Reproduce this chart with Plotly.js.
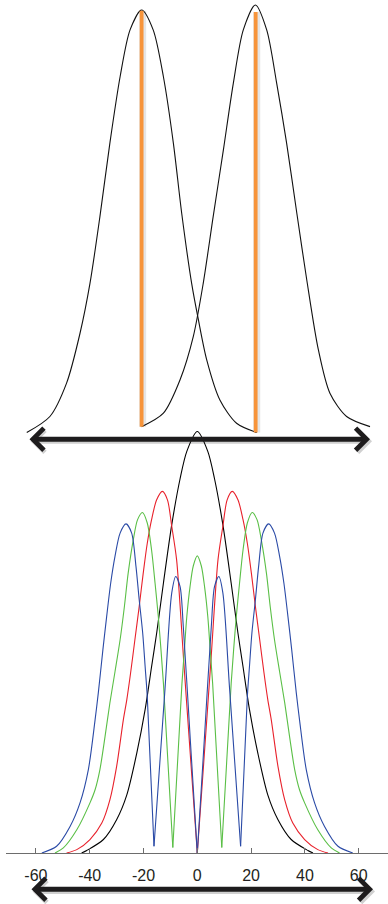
<!DOCTYPE html>
<html>
<head>
<meta charset="utf-8">
<script src="https://cdn.plot.ly/plotly-3.0.1.min.js"></script>
<style>
  html, body { margin: 0; padding: 0; background: #ffffff; }
  #myDiv { width: 388px; height: 904px; }
</style>
</head>
<body>
<div id="myDiv"></div>
<script>
// top panel: two overlapping peaks
var leftPeakX = [-63.4, -54.8, -48.6, -43.6, -39.9, -36.2, -32.5, -28.7, -25.0, -20.7, -16.4, -12.6, -8.9, -5.8, -2.1, 0.4, 3.5, 8.4, 14.6, 22.1];
var leftPeakY = [0, 0.038, 0.117, 0.235, 0.353, 0.511, 0.685, 0.842, 0.953, 1.0, 0.953, 0.842, 0.685, 0.519, 0.353, 0.267, 0.172, 0.077, 0.022, 0];
var rightPeakX = [-20.7, -12.6, -6.4, -1.5, 2.2, 5.9, 9.7, 13.4, 17.1, 21.6, 25.8, 29.5, 33.2, 37.0, 40.7, 45.0, 49.3, 55.5, 64.2];
var rightPeakY = [0.014, 0.046, 0.125, 0.227, 0.353, 0.511, 0.669, 0.827, 0.953, 1.012, 0.953, 0.827, 0.685, 0.519, 0.361, 0.196, 0.093, 0.038, 0.014];
var markerX = [-20.7, 21.7];
var markerBottom = [0.014, 0];
var markerTop = [0.998, 0.995];

// bottom panel: four states
var blackX = [-43.0, -41.1, -34.9, -30.0, -26.2, -22.5, -19.4, -17.0, -15.1, -12.6, -9.5, -6.4, -3.9, 0,
              3.9, 6.4, 9.5, 12.6, 15.1, 17.0, 19.4, 22.5, 26.2, 30.0, 34.9, 41.1, 43.0];
var blackY = [0, 0.006, 0.032, 0.079, 0.138, 0.237, 0.340, 0.442, 0.522, 0.640, 0.779, 0.888, 0.953, 1.0,
              0.953, 0.888, 0.779, 0.640, 0.522, 0.442, 0.340, 0.237, 0.138, 0.079, 0.032, 0.006, 0];

var redX = [-48.6, -44.8, -39.9, -35.5, -32.5, -30.0, -27.5, -26.2, -24.8, -23.2, -21.6, -20.1, -18.6, -17.0, -15.1, -13.0, -11.1, -9.5, -7.7, -5.1, -2.6, 0,
            2.6, 5.1, 7.7, 9.5, 11.1, 13.0, 15.1, 17.0, 18.6, 20.1, 21.6, 23.2, 24.8, 26.2, 27.5, 30.0, 32.5, 35.5, 39.9, 44.8, 48.6];
var redY = [0, 0.008, 0.032, 0.071, 0.126, 0.205, 0.316, 0.364, 0.427, 0.506, 0.585, 0.664, 0.735, 0.791, 0.838, 0.858, 0.838, 0.775, 0.696, 0.460, 0.233, 0,
            0.233, 0.460, 0.696, 0.775, 0.838, 0.858, 0.838, 0.791, 0.735, 0.664, 0.585, 0.506, 0.427, 0.364, 0.316, 0.205, 0.126, 0.071, 0.032, 0.008, 0];

var greenX = [-52.9, -49.8, -44.8, -39.9, -38.0, -36.2, -34.3, -32.5, -30.6, -28.7, -27.1, -25.7, -23.8, -22.2, -20.4, -18.6, -17.0, -15.7, -14.5, -13.5, -12.6, -9.1, -5.7, -4.8, -3.9, -2.7, -1.5, 0,
              1.5, 2.7, 3.9, 4.8, 5.7, 9.1, 12.6, 13.5, 14.5, 15.7, 17.0, 18.6, 20.4, 22.2, 23.8, 25.7, 27.1, 28.7, 30.6, 32.5, 34.3, 36.2, 38.0, 39.9, 44.8, 49.8, 52.9];
var greenY = [0, 0.012, 0.055, 0.119, 0.150, 0.198, 0.276, 0.356, 0.430, 0.506, 0.585, 0.664, 0.743, 0.791, 0.808, 0.783, 0.719, 0.640, 0.561, 0.482, 0.403, 0.013, 0.403, 0.482, 0.561, 0.632, 0.681, 0.705,
              0.681, 0.632, 0.561, 0.482, 0.403, 0.013, 0.403, 0.482, 0.561, 0.640, 0.719, 0.783, 0.808, 0.791, 0.743, 0.664, 0.585, 0.506, 0.430, 0.356, 0.276, 0.198, 0.150, 0.119, 0.055, 0.012, 0];

var blueX = [-57.8, -52.3, -47.3, -43.6, -40.5, -38.0, -36.8, -35.1, -33.7, -32.2, -30.6, -28.7, -26.5, -24.4, -22.8, -21.6, -20.3, -19.4, -18.6, -16.1, -12.0, -9.5, -8.0, -6.4, -5.2, -2.6, 0,
             2.6, 5.2, 6.4, 8.0, 9.5, 12.0, 16.1, 18.6, 19.4, 20.3, 21.6, 22.8, 24.4, 26.5, 28.7, 30.6, 32.2, 33.7, 35.1, 36.8, 38.0, 40.5, 43.6, 47.3, 52.3, 57.8];
var blueY = [0, 0.016, 0.063, 0.119, 0.198, 0.316, 0.380, 0.482, 0.561, 0.640, 0.704, 0.759, 0.781, 0.759, 0.680, 0.601, 0.522, 0.443, 0.371, 0.016, 0.390, 0.617, 0.656, 0.632, 0.537, 0.268, 0,
             0.268, 0.537, 0.632, 0.656, 0.617, 0.390, 0.016, 0.371, 0.443, 0.522, 0.601, 0.680, 0.759, 0.781, 0.759, 0.704, 0.640, 0.561, 0.482, 0.380, 0.316, 0.198, 0.119, 0.063, 0.016, 0];

var tickValues = [-60, -40, -20, 0, 20, 40, 60];
var tickLabels = ['-60', '-40', '-20', '0', '20', '40', '60'];

// page geometry (pixels)
var W = 388, H = 904;
var plotLeft = 6, plotBottom = 853.3;
var pxPerUnit = 2.69, zeroPx = 197.3;
var bottomPeakPx = 421.6;            // height of 1.0 in bottom panel
var topBasePx = 432.7, topUnitPx = 422.7;

function paperX(px) { return (px - plotLeft) / (W - plotLeft); }
function paperY(py) { return (plotBottom - py) / plotBottom; }

// break a curve at its sharp minima so the spline keeps the V shape
function splitAtMinima(xs, ys) {
    var ox = [], oy = [];
    for (var i = 0; i < xs.length; i++) {
        ox.push(xs[i]);
        oy.push(ys[i]);
        if (i > 0 && i < xs.length - 1 && ys[i] < ys[i - 1] && ys[i] < ys[i + 1]) {
            ox.push(null, xs[i]);
            oy.push(null, ys[i]);
        }
    }
    return {x: ox, y: oy};
}

function curve(xs, ys, color, yaxis) {
    var s = splitAtMinima(xs, ys);
    return {
        x: s.x,
        y: s.y,
        yaxis: yaxis,
        mode: 'lines',
        connectgaps: false,
        line: {color: color, width: 1.1, shape: 'spline', smoothing: 0.8},
        hoverinfo: 'skip'
    };
}

var data = [];
data.push(curve(blackX, blackY, '#000000', 'y'));
data.push(curve(redX, redY, '#e8212b', 'y'));
data.push(curve(greenX, greenY, '#5abf46', 'y'));
data.push(curve(blueX, blueY, '#2a4aa6', 'y'));

data.push(curve(leftPeakX, leftPeakY, '#111111', 'y2'));
data.push(curve(rightPeakX, rightPeakY, '#111111', 'y2'));

for (var k = 0; k < markerX.length; k++) {
    data.push({
        x: [markerX[k] + 0.4, markerX[k] + 0.4],
        y: [markerBottom[k], markerTop[k]],
        yaxis: 'y2',
        mode: 'lines',
        line: {color: 'rgba(0,0,0,0.10)', width: 7},
        hoverinfo: 'skip'
    });
    data.push({
        x: [markerX[k], markerX[k]],
        y: [markerBottom[k], markerTop[k]],
        yaxis: 'y2',
        mode: 'lines',
        line: {color: '#f7943a', width: 3.8},
        hoverinfo: 'skip'
    });
}

var xMin = (plotLeft - zeroPx) / pxPerUnit;
var xMax = (W - zeroPx) / pxPerUnit;

var bottomDomainTop = 0.6;
var bottomRangeTop = bottomDomainTop * plotBottom / bottomPeakPx;
var topDomainBottom = 0.4;
var topLowPx = plotBottom * (1 - topDomainBottom);
var topRange = [-(topLowPx - topBasePx) / topUnitPx, topBasePx / topUnitPx];

function arrow(xl, xr, y, color, width) {
    return {
        xref: 'paper', yref: 'paper',
        x: paperX(xr), y: paperY(y),
        axref: 'pixel', ayref: 'pixel',
        ax: -(xr - xl), ay: 0,
        text: '',
        showarrow: true,
        arrowside: 'end+start',
        arrowhead: 4, startarrowhead: 4,
        arrowsize: 0.85, startarrowsize: 0.85,
        arrowwidth: width,
        arrowcolor: color,
        standoff: 0, startstandoff: 0
    };
}

var layout = {
    width: W,
    height: H,
    margin: {l: plotLeft, r: 0, t: 0, b: H - plotBottom},
    paper_bgcolor: '#ffffff',
    plot_bgcolor: 'rgba(0,0,0,0)',
    showlegend: false,
    xaxis: {
        range: [xMin, xMax],
        anchor: 'y',
        showgrid: false,
        zeroline: false,
        showline: true,
        linecolor: '#6d6d6d',
        linewidth: 1,
        ticks: 'inside',
        ticklen: 5,
        tickwidth: 1,
        tickcolor: '#6d6d6d',
        tickvals: tickValues,
        ticktext: tickLabels,
        ticklabelstandoff: 8,
        tickfont: {family: 'Liberation Sans, Arial, sans-serif', size: 16, color: '#231f20'}
    },
    yaxis: {
        domain: [0, bottomDomainTop],
        range: [0, bottomRangeTop],
        visible: false
    },
    yaxis2: {
        domain: [topDomainBottom, 1],
        range: topRange,
        anchor: 'x',
        visible: false
    },
    annotations: [
        arrow(29, 372, 441.5, 'rgba(0,0,0,0.18)', 5),
        arrow(28, 370, 439.3, '#1e1c1d', 5),
        arrow(31, 375, 891.8, 'rgba(0,0,0,0.18)', 5),
        arrow(30, 373, 889.5, '#1e1c1d', 5)
    ]
};

Plotly.newPlot('myDiv', data, layout, {staticPlot: true, displayModeBar: false});
</script>
</body>
</html>
